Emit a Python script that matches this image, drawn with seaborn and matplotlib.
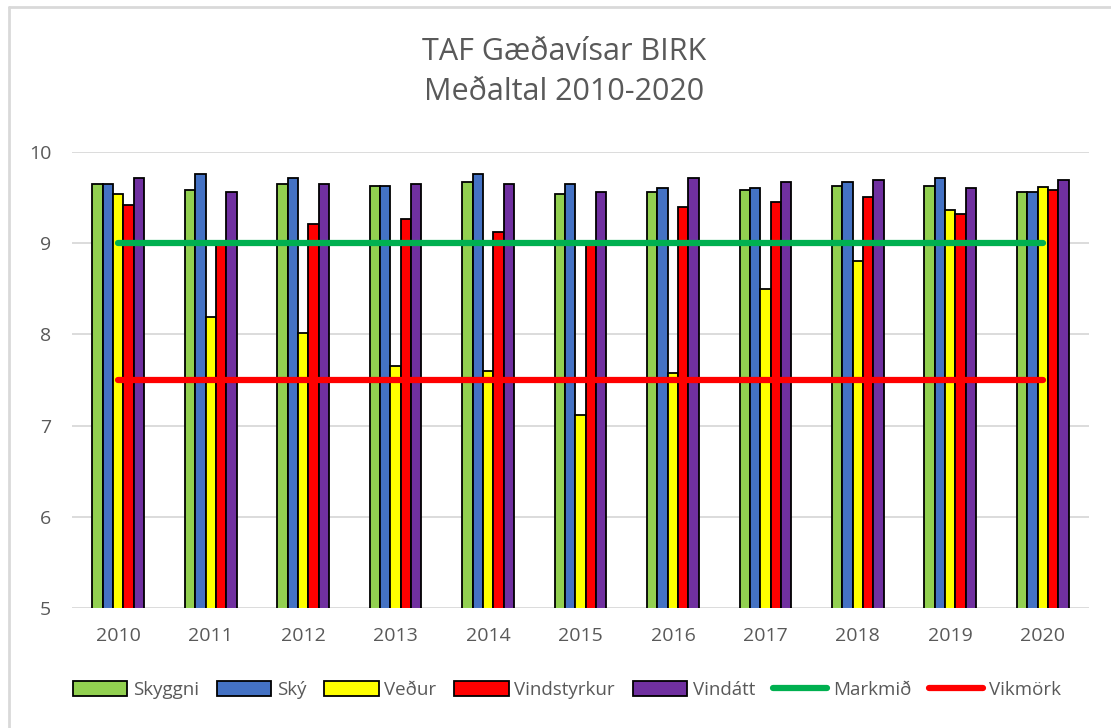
import numpy as np
import pandas as pd
import matplotlib
matplotlib.use("Agg")
import matplotlib.pyplot as plt
from matplotlib.lines import Line2D
import seaborn as sns

years = ["2010", "2011", "2012", "2013", "2014", "2015", "2016", "2017", "2018", "2019", "2020"]
skyggni = [9.65, 9.58, 9.65, 9.63, 9.67, 9.54, 9.56, 9.58, 9.63, 9.63, 9.56]
sky = [9.65, 9.76, 9.71, 9.63, 9.76, 9.65, 9.60, 9.60, 9.67, 9.71, 9.56]
vedur = [9.54, 8.19, 8.02, 7.65, 7.60, 7.12, 7.58, 8.50, 8.81, 9.36, 9.62]
vindstyrkur = [9.42, 8.99, 9.21, 9.27, 9.12, 8.99, 9.40, 9.45, 9.51, 9.32, 9.58]
vindatt = [9.71, 9.56, 9.65, 9.65, 9.65, 9.56, 9.71, 9.67, 9.69, 9.60, 9.69]
markmid = [9.0] * len(years)
vikmork = [7.5] * len(years)

series_names = ["Skyggni", "Ský", "Veður", "Vindstyrkur", "Vindátt"]
series_vals = [skyggni, sky, vedur, vindstyrkur, vindatt]
bar_colors = ["#92d050", "#4472c4", "#ffff00", "#ff0000", "#7030a0"]

df = pd.DataFrame({
    "year": years * len(series_names),
    "series": [s for s in series_names for _ in years],
    "value": [v for vals in series_vals for v in vals],
})

sns.set_theme(style="white")
plt.rcParams["font.family"] = ["Open Sans", "DejaVu Sans"]
text_color = "#595959"

fig = plt.figure(figsize=(11.11, 7.28), dpi=100)
ax = fig.add_axes([72 / 1111, 1 - 608 / 728, (1089 - 72) / 1111, (608 - 152) / 728])

sns.barplot(data=df, x="year", y="value", hue="series", order=years,
            hue_order=series_names, palette=bar_colors, width=0.56,
            edgecolor="black", linewidth=1.3, saturation=1, ax=ax, errorbar=None)

xpos = np.arange(len(years))
sns.lineplot(x=xpos, y=markmid, color="#00b050", linewidth=4.5, ax=ax, label="Markmið")
sns.lineplot(x=xpos, y=vikmork, color="#ff0000", linewidth=4.5, ax=ax, label="Vikmörk")

ax.set_ylim(5, 10)
ax.set_xlim(-0.5, len(years) - 0.5)
ax.set_yticks([5, 6, 7, 8, 9, 10])
ax.set_xlabel("")
ax.set_ylabel("")
ax.grid(axis="y", color="#d9d9d9", linewidth=1.3)
ax.set_axisbelow(True)
for s in ax.spines.values():
    s.set_visible(False)
ax.tick_params(axis="both", length=0, labelsize=14, labelcolor=text_color)
ax.tick_params(axis="y", pad=15)
ax.tick_params(axis="x", pad=14)

handles, labels = ax.get_legend_handles_labels()
ax.legend(handles, labels, loc="center", bbox_to_anchor=(567 / 1111, 1 - 690 / 728),
          bbox_transform=fig.transFigure, ncol=7, frameon=False, fontsize=13.5,
          labelcolor=text_color, handlelength=2.9, handleheight=0.8,
          handletextpad=0.3, columnspacing=0.95, borderaxespad=0)

fig.text(564 / 1111, 1 - 72 / 728, "TAF Gæðavísar BIRK\nMeðaltal 2010-2020",
         ha="center", va="center", fontsize=22, color=text_color, linespacing=1.4)

fig.add_artist(Line2D([9 / 1111, 9 / 1111], [0, 1 - 7 / 728], transform=fig.transFigure,
                      color="#d9d9d9", linewidth=2))
fig.add_artist(Line2D([9 / 1111, 1], [1 - 7 / 728, 1 - 7 / 728], transform=fig.transFigure,
                      color="#d9d9d9", linewidth=2))

fig.savefig("out.png", dpi=100, facecolor="white")
